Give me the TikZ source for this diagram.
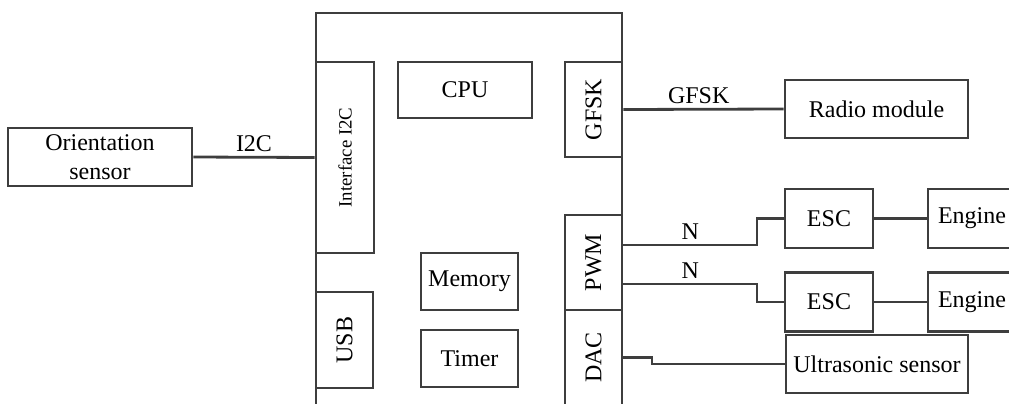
\documentclass[tikz,border=0pt]{standalone}
\usepackage{fontspec}
\setmainfont{Liberation Serif}
\definecolor{linegray}{RGB}{62,62,62}
\tikzset{
    blk/.style={draw=linegray, line width=1.4pt, inner sep=0pt, font=\fontsize{12}{14}\selectfont},
    port/.style={blk, minimum width=28.5pt, minimum height=47.5pt},
    wire/.style={draw=linegray, line width=1.4pt},
    lbl/.style={font=\fontsize{12}{14}\selectfont, inner sep=2pt}
}
\begin{document}
\begin{tikzpicture}[x=0.5pt, y=-0.5pt]
    \clip (0,0) rectangle (1009,403);
    % Khung vi điều khiển
    \draw[wire] (316,410) -- (316,13) -- (622,13) -- (622,410);
    
    % Các khối bên trong
    \node[blk, minimum width=29pt, minimum height=95.5pt] (i2c) at (345,157.5) {};
    \node[rotate=90, font=\fontsize{9.4}{11}\selectfont] at (i2c.center) {Interface I2C};
    \node[blk, minimum width=28.5pt, minimum height=48pt] (usb) at (344.5,340) {};
    \node[rotate=90, lbl] at (usb.center) {USB};
    \node[blk, minimum width=67pt, minimum height=28pt] (cpu) at (465,90) {CPU};
    \node[blk, minimum width=48.5pt, minimum height=28.5pt] (mem) at (469.5,281.5) {Memory};
    \node[blk, minimum width=48.5pt, minimum height=28.5pt] (timer) at (469.5,358.5) {Timer};
    \node[port] (gfsk) at (593.5,109.5) {};
    \node[rotate=90, lbl] at (gfsk.center) {GFSK};
    \node[port] (pwm) at (593.5,262.5) {};
    \node[rotate=90, lbl] at (pwm.center) {PWM};
    \node[port] (dac) at (593.5,357.5) {};
    \node[rotate=90, lbl] at (dac.center) {DAC};
    
    % Các khối bên ngoài
    \node[blk, minimum width=92pt, minimum height=29pt, align=center] (orient) at (100,157) {Orientation\\[0.5pt]sensor};
    \node[blk, minimum width=91.5pt, minimum height=29pt] (radio) at (876.5,109) {Radio module};
    \foreach \i/\y in {1/218.5, 2/302} {
        \node[blk, minimum width=44pt, minimum height=29.5pt] (esc\i) at (829,\y) {ESC};
        \node[blk, minimum width=44pt, minimum height=29.5pt] (eng\i) at (972,\y) {Engine};
        \draw[wire] (esc\i.east) -- (eng\i.west);
    }
    \node[blk, minimum width=91pt, minimum height=29pt] (ultra) at (877,364) {Ultrasonic sensor};
    
    % Đường nối
    \draw[wire] (orient.east) -- node[lbl, above] {I2C} (i2c.west);
    \draw[wire] (gfsk.east) -- node[lbl, above, pos=0.47] {GFSK} (radio.west);
    \coordinate (pwm1) at ([yshift=8.75pt]pwm.east);
    \coordinate (pwm2) at ([yshift=-10.75pt]pwm.east);
    \draw[wire] (pwm1) -- node[lbl, above] {N} (pwm1 -| 757,0) |- (esc1.west);
    \draw[wire] (pwm2) -- node[lbl, above] {N} (pwm2 -| 757,0) |- (esc2.west);
    \draw[wire] (dac.east) -- (652,357.5) |- (ultra.west);
\end{tikzpicture}
\end{document}
